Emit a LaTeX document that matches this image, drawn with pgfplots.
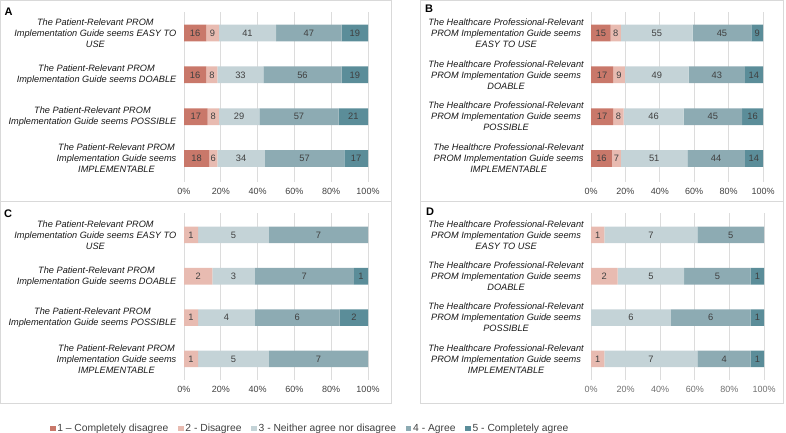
\documentclass[border=0pt]{standalone}
\usepackage{pgfplots}
\pgfplotsset{compat=1.18}
\usepackage{pgfplotstable}
\usepackage{fontspec}
\setmainfont{Liberation Sans}
\definecolor{cA}{HTML}{C9786A}
\definecolor{cB}{HTML}{E8BBB1}
\definecolor{cC}{HTML}{C4D3D7}
\definecolor{cD}{HTML}{8DABB3}
\definecolor{cE}{HTML}{5B8D99}
\definecolor{gridgray}{HTML}{DCDCDC}
\definecolor{framegray}{HTML}{D9D9D9}
\definecolor{txt}{HTML}{404040}
\definecolor{txtD}{HTML}{707070}

\pgfplotstableread{
y c1 c2 c3 c4 c5 tot
1 16 9 41 47 19 132
2 16 8 33 56 19 132
3 17 8 29 57 21 132
4 18 6 34 57 17 132
}\tabA
\pgfplotstableread{
y c1 c2 c3 c4 c5 tot
1 15 8 55 45 9 132
2 17 9 49 43 14 132
3 17 8 46 45 16 132
4 16 7 51 44 14 132
}\tabB
\pgfplotstableread{
y c1 c2 c3 c4 c5 tot
1 0 1 5 7 0 13
2 0 2 3 7 1 13
3 0 1 4 6 2 13
4 0 1 5 7 0 13
}\tabC
\pgfplotstableread{
y c1 c2 c3 c4 c5 tot
1 0 1 7 5 0 13
2 0 2 5 5 1 13
3 0 0 6 6 1 13
4 0 1 7 4 1 13
}\tabD

\pgfplotsset{
  likert/.style={
    xbar stacked, scale only axis, y dir=reverse,
    nodes near coords align={center},
    xmin=0, xmax=100, bar width=0.4,
    axis line style={draw=none}, tick style={draw=none}, major tick style={draw=none},
    xtick={0,20,40,60,80,100},
    xticklabels={0\%,20\%,40\%,60\%,80\%,100\%},
    xmajorgrids, grid style={draw=gridgray, line width=0.9pt},
    ytick={1,2,3,4},
    xticklabel style={font=\fontsize{9}{10}\selectfont, text=txt, inner sep=0pt, yshift=-6.5pt},
    yticklabel style={font=\fontsize{9.2}{11}\selectfont\itshape, text=black!90, align=center, inner sep=0pt, xshift=-7.5pt},
    point meta=explicit symbolic,
    nodes near coords={\ifnum\pgfplotspointmeta>0 \pgfplotspointmeta\fi},
    every node near coord/.append style={font=\fontsize{9.3}{10}\selectfont, text=txt, inner sep=0pt},
    clip=false,
    every axis plot/.append style={draw=none},
    legend image code/.code={\fill[##1] (0pt,-2.6pt) rectangle (5.5pt,2.6pt);},
  },
}
\newcommand\seg[3]{\addplot[fill=#1]
  table[y=y, x expr=\thisrow{#2}/\thisrow{tot}*100, meta=#2]{#3};}

\begin{document}
\begin{tikzpicture}
\path[use as bounding box] (0,0) rectangle (786pt,-433pt);
\draw[framegray, line width=0.8pt] (0.5pt,-0.5pt) rectangle (391pt,-201pt);
\draw[framegray, line width=0.8pt] (0.5pt,-201pt) rectangle (391pt,-403pt);
\draw[framegray, line width=0.8pt] (420pt,-0.5pt) rectangle (783.5pt,-201pt);
\draw[framegray, line width=0.8pt] (420pt,-201pt) rectangle (783.5pt,-403pt);
\node[anchor=base west, font=\fontsize{11}{13}\selectfont\bfseries, inner sep=0pt] at (4.5pt,-15.5pt) {A};
\node[anchor=base west, font=\fontsize{11}{13}\selectfont\bfseries, inner sep=0pt] at (425pt,-12.5pt) {B};
\node[anchor=base west, font=\fontsize{11}{13}\selectfont\bfseries, inner sep=0pt] at (4pt,-217pt) {C};
\node[anchor=base west, font=\fontsize{11}{13}\selectfont\bfseries, inner sep=0pt] at (426pt,-215.5pt) {D};

% Panel A
\begin{axis}[likert, at={(184pt,-12pt)}, anchor=north west, width=184pt, height=170pt,
  ymin=0.5, ymax=4.56,
  yticklabels={{The Patient-Relevant PROM\\Implementation Guide seems EASY TO\\USE},
               {The Patient-Relevant PROM\\Implementation Guide seems DOABLE},
               {The Patient-Relevant PROM\\Implementation Guide seems POSSIBLE},
               {The Patient-Relevant PROM\\Implementation Guide seems\\IMPLEMENTABLE}}]
\seg{cA}{c1}{\tabA}
\seg{cB}{c2}{\tabA}
\seg{cC}{c3}{\tabA}
\seg{cD}{c4}{\tabA}
\seg{cE}{c5}{\tabA}
\end{axis}

% Panel B
\begin{axis}[likert, at={(591pt,-12pt)}, anchor=north west, width=172pt, height=170pt,
  ymin=0.5, ymax=4.56, yticklabel style={xshift=0.5pt},
  yticklabels={{The Healthcare Professional-Relevant\\PROM Implementation Guide seems\\EASY TO USE},
               {The Healthcare Professional-Relevant\\PROM Implementation Guide seems\\DOABLE},
               {The Healthcare Professional-Relevant\\PROM Implementation Guide seems\\POSSIBLE},
               {The Healthcre Professional-Relevant\\PROM Implementation Guide seems\\IMPLEMENTABLE}}]
\seg{cA}{c1}{\tabB}
\seg{cB}{c2}{\tabB}
\seg{cC}{c3}{\tabB}
\seg{cD}{c4}{\tabB}
\seg{cE}{c5}{\tabB}
\end{axis}

% Panel C
\begin{axis}[likert, at={(184pt,-213pt)}, anchor=north west, width=184pt, height=167pt,
  ymin=0.47, ymax=4.51,
  yticklabels={{The Patient-Relevant PROM\\Implementation Guide seems EASY TO\\USE},
               {The Patient-Relevant PROM\\Implementation Guide seems DOABLE},
               {The Patient-Relevant PROM\\Implementation Guide seems POSSIBLE},
               {The Patient-Relevant PROM\\Implementation Guide seems\\IMPLEMENTABLE}},
  legend columns=5,
  legend style={at={(0.685,-0.29)}, anchor=center, draw=none, fill=none,
    font=\fontsize{10.3}{12}\selectfont, text=txt, inner sep=0pt,
    nodes={inner sep=1.8pt},
    /tikz/every even column/.append style={column sep=8pt}}]
\seg{cA}{c1}{\tabC}
\seg{cB}{c2}{\tabC}
\seg{cC}{c3}{\tabC}
\seg{cD}{c4}{\tabC}
\seg{cE}{c5}{\tabC}
\legend{1 -- Completely disagree, 2 - Disagree, 3 - Neither agree nor disagree, 4 - Agree, 5 - Completely agree}
\end{axis}

% Panel D
\begin{axis}[likert, at={(591pt,-213pt)}, anchor=north west, width=173pt, height=167pt,
  ymin=0.47, ymax=4.51,
  xticklabel style={text=txtD}, yticklabel style={xshift=0.5pt},
  yticklabels={{The Healthcare Professional-Relevant\\PROM Implementation Guide seems\\EASY TO USE},
               {The Healthcare Professional-Relevant\\PROM Implementation Guide seems\\DOABLE},
               {The Healthcare Professional-Relevant\\PROM Implementation Guide seems\\POSSIBLE},
               {The Healthcare Professional-Relevant\\PROM Implementation Guide seems\\IMPLEMENTABLE}}]
\seg{cA}{c1}{\tabD}
\seg{cB}{c2}{\tabD}
\seg{cC}{c3}{\tabD}
\seg{cD}{c4}{\tabD}
\seg{cE}{c5}{\tabD}
\end{axis}
\end{tikzpicture}
\end{document}
